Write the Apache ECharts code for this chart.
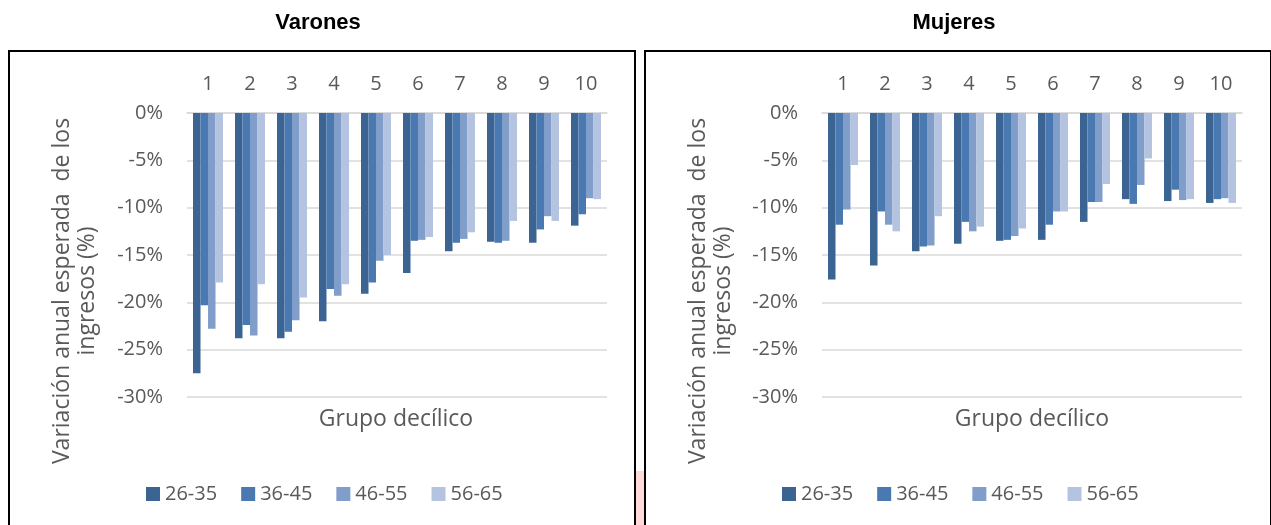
<!DOCTYPE html>
<html>
<head>
<meta charset="utf-8">
<script src="https://cdn.jsdelivr.net/npm/echarts@6/dist/echarts.min.js"></script>
<style>
  html, body { margin: 0; padding: 0; background: #ffffff; }
  #chart { width: 1271px; height: 525px; }
</style>
</head>
<body>
<div id="chart"></div>
<script>
// Deciles (income groups) shown along the top axis
const deciles = ['1', '2', '3', '4', '5', '6', '7', '8', '9', '10'];
// Age brackets
const ageGroups = ['26-35', '36-45', '46-55', '56-65'];
const yTicks = [0, -5, -10, -15, -20, -25, -30];

// Expected annual change in earnings (%), men, by age bracket
const men_26_35 = [-27.5, -23.8, -23.8, -22.0, -19.1, -16.9, -14.6, -13.6, -13.7, -11.9];
const men_36_45 = [-20.3, -22.4, -23.1, -18.6, -17.9, -13.5, -13.7, -13.7, -12.3, -10.7];
const men_46_55 = [-22.8, -23.5, -21.9, -19.3, -15.6, -13.4, -13.3, -13.5, -10.9, -9.0];
const men_56_65 = [-17.9, -18.1, -19.5, -18.1, -15.0, -13.1, -12.6, -11.4, -11.4, -9.1];

// Expected annual change in earnings (%), women, by age bracket
const women_26_35 = [-17.6, -16.1, -14.6, -13.8, -13.5, -13.4, -11.5, -9.1, -9.3, -9.5];
const women_36_45 = [-11.8, -10.4, -14.1, -11.5, -13.4, -11.8, -9.4, -9.6, -8.1, -9.1];
const women_46_55 = [-10.2, -11.8, -14.0, -12.5, -13.0, -10.4, -9.4, -7.6, -9.2, -9.0];
const women_56_65 = [-5.5, -12.5, -10.9, -12.0, -12.2, -10.4, -7.5, -4.8, -9.1, -9.5];

const menSeries = [men_26_35, men_36_45, men_46_55, men_56_65];
const womenSeries = [women_26_35, women_36_45, women_46_55, women_56_65];

const colors = ['#3b6493', '#4a78b0', '#809ec9', '#b4c4e0'];
const textColor = '#595959';
const font = 'Open Sans';
const fs = 20;      // tick labels and legend
const fsTitle = 23; // axis titles

const panels = [
  { title: 'Varones', data: menSeries, gridLeft: 187, dx: 0 },
  { title: 'Mujeres', data: womenSeries, gridLeft: 822, dx: 636 }
];
const plotWidth = 420;
const plotTop = 113;
const plotHeight = 284;

const grids = [], xAxes = [], yAxes = [], series = [], legends = [], graphics = [];

panels.forEach((p, i) => {
  grids.push({ left: p.gridLeft, top: plotTop, width: plotWidth, height: plotHeight, containLabel: false });
  xAxes.push({
    type: 'category', gridIndex: i, data: deciles, position: 'top',
    axisLine: { show: true, lineStyle: { color: '#d9d9d9', width: 1.5 } },
    axisTick: { show: false },
    axisLabel: { color: textColor, fontFamily: font, fontSize: fs, margin: 19 }
  });
  yAxes.push({
    type: 'value', gridIndex: i, min: Math.min(...yTicks), max: Math.max(...yTicks), interval: 5,
    axisLine: { show: false }, axisTick: { show: false },
    splitLine: { lineStyle: { color: '#d9d9d9', width: 1.5 } },
    axisLabel: { color: textColor, fontFamily: font, fontSize: fs, margin: 24, formatter: v => v + '%' }
  });
  p.data.forEach((vals, k) => {
    series.push({
      type: 'bar', name: ageGroups[k], xAxisIndex: i, yAxisIndex: i,
      data: vals, barWidth: 7.5, barGap: '0%',
      itemStyle: { color: colors[k] },
      emphasis: { disabled: true }
    });
  });
  legends.push({
    data: ageGroups, left: 146 + p.dx, top: 484, padding: 0, itemWidth: 14, itemHeight: 14,
    itemGap: 24, icon: 'rect', selectedMode: false,
    textStyle: { color: textColor, fontFamily: font, fontSize: fs }
  });
  // panel frame
  graphics.push({
    type: 'rect', x: 9 + p.dx, y: 51, silent: true,
    shape: { x: 0, y: 0, width: 626, height: 500 },
    style: { fill: 'none', stroke: '#000000', lineWidth: 2 }
  });
  // panel title
  graphics.push({
    type: 'text', x: 318 + p.dx, y: 23, silent: true,
    style: { text: p.title, fill: '#000000', font: 'bold 22px "Liberation Sans"', align: 'center', verticalAlign: 'middle' }
  });
  // vertical axis title
  graphics.push({
    type: 'text', x: 75 + p.dx, y: 291, rotation: Math.PI / 2, silent: true,
    style: {
      text: 'Variación anual esperada  de los\ningresos (%)', fill: textColor,
      font: fsTitle + 'px "' + font + '"', align: 'center', verticalAlign: 'middle', lineHeight: 25
    }
  });
  // horizontal axis title
  graphics.push({
    type: 'text', x: 396 + p.dx, y: 419, silent: true,
    style: { text: 'Grupo decílico', fill: textColor, font: fsTitle + 'px "' + font + '"', align: 'center', verticalAlign: 'middle' }
  });
});

// thin tinted strip between the two frames
graphics.push({
  type: 'rect', x: 636, y: 471, silent: true,
  shape: { x: 0, y: 0, width: 8, height: 60 }, style: { fill: '#fdd9d9' }
});

const chart = echarts.init(document.getElementById('chart'), null, { renderer: 'canvas' });
chart.setOption({
  animation: false,
  backgroundColor: '#ffffff',
  grid: grids, xAxis: xAxes, yAxis: yAxes, series: series, legend: legends,
  graphic: graphics
});
</script>
</body>
</html>
